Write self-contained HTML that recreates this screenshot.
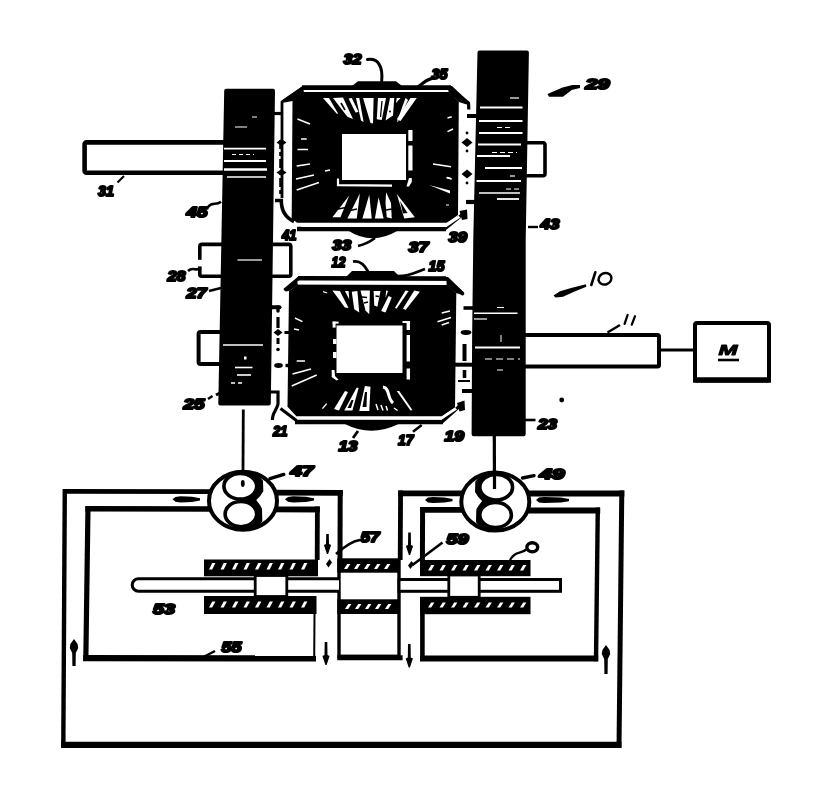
<!DOCTYPE html>
<html><head><meta charset="utf-8"><title>Patent figure</title>
<style>html,body{margin:0;padding:0;background:#fff;}body{width:824px;height:810px;overflow:hidden;font-family:"Liberation Sans",sans-serif;}svg{display:block}</style>
</head><body>
<svg style="filter:grayscale(1)" width="824" height="810" viewBox="0 0 824 810">
<rect x="0" y="0" width="824" height="810" fill="#fff"/>
<rect x="84.6" y="142.4" width="150" height="30.4" fill="#fff" stroke="#000" stroke-width="4.6" rx="2"/>
<rect x="515" y="142.8" width="30" height="33" fill="#fff" stroke="#000" stroke-width="3.6" rx="2"/>
<rect x="199.8" y="244.4" width="40" height="31.8" fill="#fff" stroke="#000" stroke-width="3.6" rx="2"/>
<rect x="250" y="244.4" width="40.8" height="31.8" fill="#fff" stroke="#000" stroke-width="3.6" rx="2"/>
<rect x="196.5" y="259.8" width="5.5" height="6.6" fill="#fff" stroke="none" stroke-width="3" rx="0"/>
<rect x="198.6" y="332" width="40" height="32" fill="#fff" stroke="#000" stroke-width="4" rx="2"/>
<rect x="500" y="335" width="159" height="31.6" fill="#fff" stroke="#000" stroke-width="4" rx="1.5"/>
<line x1="660" y1="350" x2="694" y2="350" stroke="#000" stroke-width="3" stroke-linecap="butt"/>
<rect x="695" y="323" width="74" height="57.5" fill="#fff" stroke="#000" stroke-width="4" rx="2"/>
<line x1="693" y1="380" x2="771" y2="380" stroke="#000" stroke-width="5.6" stroke-linecap="butt"/>
<polygon points="226.20,90.80 273.00,90.80 268.80,403.50 220.30,403.50" fill="#000" stroke="#000" stroke-width="4" stroke-linejoin="round"/>
<polygon points="479.50,52.40 526.90,52.40 523.70,240.00 523.70,434.30 473.60,434.30 474.10,339.00 475.30,238.00" fill="#000" stroke="#000" stroke-width="4" stroke-linejoin="round"/>
<line x1="224" y1="148.6" x2="266" y2="148.6" stroke="#fff" stroke-width="1.9" stroke-linecap="butt"/>
<line x1="232" y1="154.5" x2="254" y2="154.5" stroke="#fff" stroke-width="1" stroke-dasharray="4 3"/>
<line x1="224" y1="161" x2="266" y2="161" stroke="#fff" stroke-width="1.9" stroke-linecap="butt"/>
<line x1="224" y1="169.4" x2="267" y2="169.4" stroke="#fff" stroke-width="2.5" stroke-linecap="butt"/>
<line x1="227" y1="177" x2="266" y2="177" stroke="#fff" stroke-width="1.7" stroke-linecap="butt"/>
<line x1="235" y1="127" x2="247" y2="127" stroke="#fff" stroke-width="1" stroke-linecap="butt"/>
<line x1="252" y1="117" x2="257" y2="117" stroke="#fff" stroke-width="1" stroke-linecap="butt"/>
<line x1="237.5" y1="260" x2="262" y2="260" stroke="#fff" stroke-width="1.2" stroke-linecap="butt"/>
<line x1="223" y1="345" x2="263" y2="345" stroke="#fff" stroke-width="1.5" stroke-linecap="butt"/>
<line x1="235" y1="367.5" x2="252.5" y2="367.5" stroke="#fff" stroke-width="1.6" stroke-linecap="butt"/>
<line x1="237" y1="375" x2="251" y2="375" stroke="#fff" stroke-width="1.6" stroke-linecap="butt"/>
<line x1="231" y1="383" x2="244" y2="383" stroke="#fff" stroke-width="1.3" stroke-dasharray="4 3"/>
<rect x="244" y="356.5" width="2.5" height="3" fill="#fff" stroke="none" stroke-width="3" rx="0"/>
<line x1="510" y1="98" x2="519" y2="98" stroke="#fff" stroke-width="1.2" stroke-linecap="butt"/>
<line x1="480" y1="107.5" x2="522.5" y2="107.5" stroke="#fff" stroke-width="2.2" stroke-linecap="butt"/>
<line x1="479" y1="121" x2="522.5" y2="121" stroke="#fff" stroke-width="2.2" stroke-linecap="butt"/>
<line x1="479" y1="133" x2="522.5" y2="133" stroke="#fff" stroke-width="2" stroke-linecap="butt"/>
<line x1="478" y1="144.5" x2="521" y2="144.5" stroke="#fff" stroke-width="2.2" stroke-linecap="butt"/>
<line x1="477" y1="156" x2="510" y2="156" stroke="#fff" stroke-width="1.8" stroke-linecap="butt"/>
<line x1="485" y1="168" x2="522" y2="168" stroke="#fff" stroke-width="2" stroke-linecap="butt"/>
<line x1="510" y1="176" x2="515" y2="176" stroke="#fff" stroke-width="1.2" stroke-linecap="butt"/>
<line x1="476.5" y1="181" x2="521" y2="181" stroke="#fff" stroke-width="2.2" stroke-linecap="butt"/>
<line x1="479" y1="193" x2="520" y2="193" stroke="#fff" stroke-width="1.4" stroke-linecap="butt"/>
<line x1="497" y1="199" x2="519" y2="199" stroke="#fff" stroke-width="1.8" stroke-linecap="butt"/>
<line x1="497" y1="127.5" x2="512" y2="127.5" stroke="#fff" stroke-width="1" stroke-dasharray="5 3"/>
<line x1="492" y1="152.5" x2="517" y2="152.5" stroke="#fff" stroke-width="1" stroke-dasharray="5 3"/>
<line x1="506" y1="189" x2="520" y2="189" stroke="#fff" stroke-width="1" stroke-dasharray="5 3"/>
<line x1="497" y1="307.5" x2="504" y2="307.5" stroke="#fff" stroke-width="1" stroke-linecap="butt"/>
<line x1="474" y1="313.2" x2="517.5" y2="313.2" stroke="#fff" stroke-width="1.6" stroke-linecap="butt"/>
<line x1="474" y1="319" x2="487" y2="319" stroke="#fff" stroke-width="1.2" stroke-linecap="butt"/>
<line x1="475" y1="347.5" x2="520" y2="347.5" stroke="#fff" stroke-width="2" stroke-linecap="butt"/>
<line x1="485" y1="359" x2="520" y2="359" stroke="#fff" stroke-width="1.2" stroke-dasharray="7 4"/>
<line x1="497" y1="370" x2="503" y2="370" stroke="#fff" stroke-width="1" stroke-linecap="butt"/>
<line x1="501" y1="335" x2="501" y2="342" stroke="#fff" stroke-width="1" stroke-linecap="butt"/>
<polyline points="282.00,198.00 282.00,102.00 303.00,87.50" fill="none" stroke="#000" stroke-width="2.8" stroke-linejoin="round" stroke-linecap="butt"/>
<line x1="302" y1="87.6" x2="451" y2="87.6" stroke="#000" stroke-width="4.8" stroke-linecap="butt"/>
<polyline points="449.00,87.50 468.50,103.00 468.80,109.50" fill="none" stroke="#000" stroke-width="3.2" stroke-linejoin="round" stroke-linecap="butt"/>
<polygon points="352.00,86.00 358.00,81.30 396.00,81.30 402.00,86.00" fill="#000" />
<polygon points="304.00,92.00 449.00,92.00 458.80,101.70 458.00,215.00 447.00,222.80 297.00,222.80 291.70,218.50 292.50,100.50" fill="#000" />
<polygon points="303.00,86.00 282.00,100.50 284.50,102.50 292.50,101.00 304.00,93.00" fill="#000" />
<polygon points="447.00,86.00 452.00,86.00 469.00,102.00 466.50,104.50 459.00,102.00 449.00,93.00" fill="#000" />
<rect x="304" y="90.2" width="143.5" height="1.8" fill="#fff" stroke="none" stroke-width="3" rx="0"/>
<line x1="297" y1="229" x2="446" y2="229" stroke="#000" stroke-width="4.4" stroke-linecap="butt"/>
<polyline points="444.00,229.50 465.00,212.50" fill="none" stroke="#000" stroke-width="3.4" stroke-linejoin="round" stroke-linecap="butt"/>
<polygon points="459.50,211.00 467.00,209.50 467.50,219.00 462.00,220.00" fill="#000" />
<path d="M 348,230.5 Q 372,246 398,230.5 Z" fill="#000" stroke="none" stroke-width="3" />
<path d="M 275,200.5 L 281.3,200.5 C 281.3,209 284,217 294,221.5" fill="none" stroke="#000" stroke-width="3.6" />
<line x1="274" y1="113.5" x2="283" y2="113.5" stroke="#000" stroke-width="3.2" stroke-linecap="butt"/>
<polygon points="340.00,223.20 446.00,223.20 458.50,215.80 460.50,217.50 446.50,227.00 302.00,227.00 300.00,225.60" fill="#fff" />
<polygon points="447.00,222.80 458.30,215.00" fill="#000" />
<rect x="342" y="134" width="64" height="46" fill="#fff" stroke="none" stroke-width="3" rx="0"/>
<rect x="408.3" y="130" width="4.2" height="11" fill="#fff" stroke="none" stroke-width="3" rx="0"/>
<rect x="408.3" y="145.5" width="4.2" height="25" fill="#fff" stroke="none" stroke-width="3" rx="0"/>
<polygon points="406.50,186.60 409.00,178.00 411.80,178.00 411.80,182.00 409.00,186.60" fill="#fff" />
<polyline points="338.00,178.50 338.00,185.20 392.00,185.60" fill="none" stroke="#fff" stroke-width="2.2" stroke-linejoin="miter" stroke-linecap="butt"/>
<polygon points="323.00,98.00 329.00,98.00 338.20,113.80 336.80,113.80" fill="#fff" />
<polygon points="333.00,98.00 343.00,97.50 353.00,119.00 347.40,116.80" fill="#fff" />
<polygon points="348.60,98.60 351.80,98.00 358.50,112.00 355.50,112.50" fill="#fff" />
<polygon points="356.00,98.00 359.30,98.00 363.60,122.00 361.00,120.50" fill="#fff" />
<polygon points="363.00,98.00 373.60,98.00 373.00,123.60 370.50,123.00" fill="#fff" />
<polygon points="378.00,98.00 386.00,98.00 381.75,119.90 376.75,119.25" fill="#fff" />
<polygon points="390.00,98.00 394.25,98.00 393.00,115.50 385.50,120.50" fill="#fff" />
<polygon points="396.75,98.00 400.50,98.00 396.00,103.00" fill="#fff" />
<polygon points="405.50,98.00 408.00,100.00 398.00,121.75 397.00,121.75" fill="#fff" />
<polygon points="410.50,98.00 416.75,98.00 400.50,121.00 396.75,119.25" fill="#fff" />
<line x1="341" y1="103" x2="345" y2="110" stroke="#000" stroke-width="1.6" stroke-linecap="butt"/>
<line x1="382" y1="101" x2="380.5" y2="117" stroke="#000" stroke-width="1.3" stroke-linecap="butt"/>
<circle cx="390" cy="111.5" r="1" fill="#000"/>
<polygon points="349.25,195.40 332.40,217.25 340.50,217.25" fill="#fff" />
<polygon points="359.90,193.50 347.40,218.50 356.75,218.50" fill="#fff" />
<polygon points="369.25,194.75 362.40,218.50 371.75,218.50" fill="#fff" />
<polygon points="378.60,197.25 374.90,218.50 383.60,218.50" fill="#fff" />
<polygon points="386.10,192.25 385.50,203.00 386.75,217.25 391.75,218.50 391.00,203.00" fill="#fff" />
<polygon points="396.75,194.00 404.25,218.50 414.90,217.25" fill="#fff" />
<line x1="338" y1="209" x2="346" y2="207.5" stroke="#000" stroke-width="1.6" stroke-linecap="butt"/>
<line x1="350" y1="210.5" x2="357" y2="209" stroke="#000" stroke-width="1.6" stroke-linecap="butt"/>
<polygon points="400.00,201.00 403.00,213.50 407.50,213.00" fill="#000" />
<line x1="386" y1="210" x2="392" y2="209" stroke="#000" stroke-width="1.4" stroke-linecap="butt"/>
<line x1="297.5" y1="119" x2="310" y2="124" stroke="#fff" stroke-width="1.5" stroke-linecap="butt"/>
<line x1="301" y1="139" x2="306.7" y2="139" stroke="#fff" stroke-width="1.5" stroke-linecap="butt"/>
<line x1="297.5" y1="149.5" x2="308" y2="149.5" stroke="#fff" stroke-width="1.5" stroke-linecap="butt"/>
<line x1="296.7" y1="166" x2="310" y2="164" stroke="#fff" stroke-width="1.5" stroke-linecap="butt"/>
<line x1="296" y1="179" x2="314" y2="175" stroke="#fff" stroke-width="1.5" stroke-linecap="butt"/>
<line x1="296.7" y1="190" x2="319" y2="182.5" stroke="#fff" stroke-width="1.5" stroke-linecap="butt"/>
<line x1="325" y1="171" x2="330" y2="170" stroke="#fff" stroke-width="1.5" stroke-linecap="butt"/>
<line x1="447.5" y1="118" x2="451.7" y2="116.7" stroke="#fff" stroke-width="1.5" stroke-linecap="butt"/>
<line x1="447.5" y1="131.7" x2="453" y2="129" stroke="#fff" stroke-width="1.5" stroke-linecap="butt"/>
<line x1="433" y1="164" x2="451" y2="166.7" stroke="#fff" stroke-width="1.5" stroke-linecap="butt"/>
<line x1="446.7" y1="177.5" x2="451" y2="178.7" stroke="#fff" stroke-width="1.5" stroke-linecap="butt"/>
<line x1="446.7" y1="177.5" x2="451.7" y2="179" stroke="#fff" stroke-width="1.5" stroke-linecap="butt"/>
<polygon points="429.00,185.00 450.00,190.50 450.00,193.50" fill="#fff" />
<line x1="446" y1="205" x2="449" y2="205" stroke="#fff" stroke-width="1" stroke-linecap="butt"/>
<line x1="298" y1="278.2" x2="446" y2="278.6" stroke="#000" stroke-width="4.6" stroke-linecap="butt"/>
<polyline points="299.50,277.50 284.50,289.80" fill="none" stroke="#000" stroke-width="3" stroke-linejoin="round" stroke-linecap="butt"/>
<polyline points="444.00,278.50 462.50,293.50" fill="none" stroke="#000" stroke-width="3.6" stroke-linejoin="round" stroke-linecap="round"/>
<polygon points="346.00,277.00 352.00,271.00 394.00,271.00 400.00,277.00" fill="#000" />
<polygon points="298.00,284.50 447.00,285.00 456.30,293.00 455.00,407.50 441.70,416.60 296.70,416.60 287.50,406.70 289.00,291.00" fill="#000" />
<polygon points="299.00,276.50 283.50,289.50 285.50,291.50 289.00,291.00 298.00,285.00" fill="#000" />
<polygon points="443.00,277.00 448.00,277.00 463.50,292.00 461.00,294.50 456.00,293.00 447.00,285.50" fill="#000" />
<rect x="297.5" y="280.9" width="149" height="3.3" fill="#fff" stroke="none" stroke-width="3" rx="0"/>
<line x1="295" y1="421.8" x2="443" y2="421.8" stroke="#000" stroke-width="4.8" stroke-linecap="butt"/>
<polyline points="280.50,408.50 298.00,421.80" fill="none" stroke="#000" stroke-width="3" stroke-linejoin="round" stroke-linecap="butt"/>
<polyline points="441.00,422.80 462.50,403.50" fill="none" stroke="#000" stroke-width="3.4" stroke-linejoin="round" stroke-linecap="butt"/>
<polygon points="457.00,403.00 464.50,400.50 465.00,410.00 459.50,411.50" fill="#000" />
<path d="M 345,424 Q 371,437.5 398.5,424 Z" fill="#000" stroke="none" stroke-width="3" />
<polygon points="297.00,416.60 441.50,416.60 455.00,407.60 457.00,409.60 441.50,419.80 297.00,419.60" fill="#fff" />
<path d="M 270,392 L 278,392 L 278,404 C 277,410 272,413 272.5,420" fill="none" stroke="#000" stroke-width="3.2" />
<rect x="336.5" y="325.5" width="66" height="47.5" fill="#fff" stroke="none" stroke-width="3" rx="0"/>
<rect x="332.6" y="321.6" width="3" height="6" fill="#fff" stroke="none" stroke-width="3" rx="0"/>
<rect x="332.6" y="321.6" width="6" height="2" fill="#fff" stroke="none" stroke-width="3" rx="0"/>
<rect x="333" y="339" width="3.5" height="5" fill="#fff" stroke="none" stroke-width="3" rx="0"/>
<rect x="333" y="352" width="3.5" height="6" fill="#fff" stroke="none" stroke-width="3" rx="0"/>
<polygon points="331.70,370.00 334.50,370.00 335.00,376.00 338.50,379.50 336.50,380.50 331.70,377.00" fill="#fff" />
<rect x="406.6" y="321" width="3.4" height="9" fill="#fff" stroke="none" stroke-width="3" rx="0"/>
<rect x="406.6" y="335" width="3.4" height="26.5" fill="#fff" stroke="none" stroke-width="3" rx="0"/>
<rect x="406.6" y="368.5" width="3.4" height="11" fill="#fff" stroke="none" stroke-width="3" rx="0"/>
<rect x="402.5" y="321" width="5" height="2" fill="#fff" stroke="none" stroke-width="3" rx="0"/>
<polygon points="323.00,291.00 327.40,292.40 327.00,293.50 323.00,292.30" fill="#fff" />
<polygon points="332.40,290.50 339.90,291.00 348.60,308.00 344.90,307.40" fill="#fff" />
<polygon points="344.90,291.00 348.60,291.00 349.25,299.25" fill="#fff" />
<polygon points="351.75,291.75 357.40,291.00 359.25,312.40 354.25,309.25" fill="#fff" />
<polygon points="360.50,290.50 369.90,290.50 369.25,314.25 365.50,310.50" fill="#fff" />
<polygon points="373.60,291.00 380.50,291.00 377.40,306.75 374.25,305.50" fill="#fff" />
<polygon points="386.10,290.50 388.00,291.00 385.50,298.00" fill="#fff" />
<polygon points="388.60,296.00 391.75,297.40 385.50,312.40 381.10,311.00" fill="#fff" />
<polygon points="405.50,290.50 408.60,291.00 396.75,308.60 394.90,308.00" fill="#fff" />
<polygon points="414.25,290.50 419.90,291.75 405.50,309.90 403.00,308.60" fill="#fff" />
<line x1="362" y1="297" x2="367" y2="297.5" stroke="#000" stroke-width="1.4" stroke-linecap="butt"/>
<line x1="364" y1="303" x2="368" y2="302" stroke="#000" stroke-width="1.4" stroke-linecap="butt"/>
<line x1="375.5" y1="296" x2="379" y2="296.5" stroke="#000" stroke-width="1.3" stroke-linecap="butt"/>
<polygon points="345.00,391.00 348.00,392.00 339.00,410.50 334.00,409.00" fill="#fff" />
<polygon points="356.75,387.40 358.60,388.00 352.40,410.50 344.25,410.50" fill="#fff" />
<polygon points="364.90,386.10 370.50,386.75 369.25,411.00 359.25,411.00" fill="#fff" />
<polygon points="396.75,391.10 399.25,391.10 412.40,410.00 410.50,410.50" fill="#fff" />
<line x1="322.4" y1="408.6" x2="326.75" y2="403.6" stroke="#fff" stroke-width="1.4" stroke-linecap="butt"/>
<polygon points="351.50,400.00 353.50,400.00 351.00,408.00 347.50,408.00" fill="#000" />
<polygon points="365.00,392.00 367.00,392.00 366.50,407.00 362.50,407.00" fill="#000" />
<path d="M 383,387 C 390,388 387,398 393,403" fill="none" stroke="#fff" stroke-width="3" />
<line x1="376" y1="404" x2="378" y2="410" stroke="#fff" stroke-width="1.5" stroke-linecap="butt"/>
<line x1="381" y1="405" x2="383" y2="410.5" stroke="#fff" stroke-width="1.5" stroke-linecap="butt"/>
<line x1="386" y1="406" x2="387.5" y2="410.5" stroke="#fff" stroke-width="1.5" stroke-linecap="butt"/>
<line x1="394" y1="408" x2="397.5" y2="410.5" stroke="#fff" stroke-width="1.5" stroke-linecap="butt"/>
<line x1="295" y1="318" x2="302.5" y2="321.7" stroke="#fff" stroke-width="1.5" stroke-linecap="butt"/>
<line x1="294" y1="329" x2="299" y2="330" stroke="#fff" stroke-width="1.5" stroke-linecap="butt"/>
<line x1="296.7" y1="361" x2="305" y2="361" stroke="#fff" stroke-width="1.5" stroke-linecap="butt"/>
<line x1="292.5" y1="374" x2="311" y2="369" stroke="#fff" stroke-width="1.5" stroke-linecap="butt"/>
<line x1="291.7" y1="386" x2="316.7" y2="375" stroke="#fff" stroke-width="1.5" stroke-linecap="butt"/>
<line x1="441.7" y1="313" x2="450" y2="311" stroke="#fff" stroke-width="1.5" stroke-linecap="butt"/>
<line x1="437.5" y1="321.7" x2="451" y2="317.5" stroke="#fff" stroke-width="1.5" stroke-linecap="butt"/>
<line x1="441.7" y1="325" x2="449" y2="322.5" stroke="#fff" stroke-width="1.5" stroke-linecap="butt"/>
<line x1="463.5" y1="308" x2="475" y2="308" stroke="#000" stroke-width="3.6" stroke-linecap="butt"/>
<line x1="462" y1="391" x2="474" y2="391" stroke="#000" stroke-width="4" stroke-linecap="butt"/>
<line x1="455" y1="364.7" x2="473" y2="364.7" stroke="#000" stroke-width="4" stroke-linecap="butt"/>
<ellipse cx="466" cy="332.5" rx="5.3" ry="2.4" fill="#000"/>
<line x1="464.5" y1="344" x2="464.5" y2="361" stroke="#000" stroke-width="4" stroke-linecap="butt"/>
<line x1="464.5" y1="370" x2="464.5" y2="378" stroke="#000" stroke-width="3.6" stroke-linecap="butt"/>
<line x1="458" y1="381" x2="470" y2="381" stroke="#000" stroke-width="2" stroke-linecap="butt"/>
<line x1="467" y1="116" x2="479" y2="116" stroke="#000" stroke-width="4" stroke-linecap="butt"/>
<line x1="466" y1="202" x2="477" y2="202" stroke="#000" stroke-width="4.2" stroke-linecap="butt"/>
<polygon points="461.50,142.50 467.00,138.00 472.50,142.50 467.00,147.00" fill="#000" />
<polygon points="461.50,174.00 467.00,169.50 472.50,174.00 467.00,178.50" fill="#000" />
<circle cx="467" cy="133" r="1.4" fill="#000"/>
<circle cx="467" cy="151" r="1.4" fill="#000"/>
<circle cx="467" cy="183" r="1.4" fill="#000"/>
<line x1="281" y1="140" x2="281" y2="196" stroke="#000" stroke-width="3.6" stroke-dasharray="9 3 4 3"/>
<polygon points="276.50,142.50 281.50,139.00 286.50,142.50 281.50,146.00" fill="#000" />
<polygon points="276.50,172.50 281.50,169.00 286.50,172.50 281.50,176.00" fill="#000" />
<line x1="278" y1="307" x2="278" y2="311" stroke="#000" stroke-width="3.4" stroke-linecap="round"/>
<line x1="278" y1="317" x2="278" y2="328" stroke="#000" stroke-width="3.2" stroke-linecap="butt"/>
<polygon points="273.50,332.50 278.00,329.00 282.50,332.50 278.00,336.00" fill="#000" />
<line x1="278" y1="338" x2="278" y2="344" stroke="#000" stroke-width="3" stroke-linecap="butt"/>
<circle cx="278" cy="349.5" r="1.8" fill="#000"/>
<ellipse cx="278.5" cy="365.5" rx="4.3" ry="2.4" fill="#000"/>
<line x1="284.5" y1="332.5" x2="290" y2="332.5" stroke="#000" stroke-width="3" stroke-linecap="butt"/>
<line x1="285.5" y1="365.5" x2="290" y2="365.5" stroke="#000" stroke-width="3.4" stroke-linecap="butt"/>
<line x1="270" y1="307.3" x2="279.5" y2="307.3" stroke="#000" stroke-width="4" stroke-linecap="round"/>
<line x1="243.3" y1="409.5" x2="243" y2="471" stroke="#000" stroke-width="2.8" stroke-linecap="butt"/>
<line x1="494.3" y1="436" x2="494.5" y2="489" stroke="#000" stroke-width="3.2" stroke-linecap="butt"/>
<line x1="63" y1="491.4" x2="216" y2="491.6" stroke="#000" stroke-width="4.8" stroke-linecap="butt"/>
<line x1="64.8" y1="489" x2="63.3" y2="747.5" stroke="#000" stroke-width="4.4" stroke-linecap="butt"/>
<line x1="61.2" y1="744.8" x2="621.4" y2="744.8" stroke="#000" stroke-width="6.2" stroke-linecap="butt"/>
<line x1="621.8" y1="490.5" x2="619" y2="747.8" stroke="#000" stroke-width="5" stroke-linecap="butt"/>
<line x1="522" y1="493.5" x2="624.3" y2="493.5" stroke="#000" stroke-width="6" stroke-linecap="butt"/>
<line x1="270" y1="492.6" x2="342.8" y2="492.8" stroke="#000" stroke-width="5.8" stroke-linecap="butt"/>
<line x1="340.2" y1="490" x2="340" y2="560" stroke="#000" stroke-width="5" stroke-linecap="butt"/>
<line x1="398.2" y1="493.3" x2="468" y2="493.3" stroke="#000" stroke-width="5.8" stroke-linecap="butt"/>
<line x1="400.6" y1="490.5" x2="400.2" y2="560" stroke="#000" stroke-width="4.8" stroke-linecap="butt"/>
<line x1="85.4" y1="508.8" x2="217" y2="509" stroke="#000" stroke-width="5.6" stroke-linecap="butt"/>
<line x1="88" y1="506" x2="85.8" y2="661" stroke="#000" stroke-width="5.2" stroke-linecap="butt"/>
<line x1="83.2" y1="658.2" x2="316" y2="658.4" stroke="#000" stroke-width="6.2" stroke-linecap="butt"/>
<line x1="270" y1="509.4" x2="319.8" y2="509.5" stroke="#000" stroke-width="5.8" stroke-linecap="butt"/>
<line x1="317.4" y1="506.6" x2="317.2" y2="560" stroke="#000" stroke-width="4.8" stroke-linecap="butt"/>
<line x1="420" y1="509.8" x2="469" y2="509.8" stroke="#000" stroke-width="5.8" stroke-linecap="butt"/>
<line x1="422.6" y1="507" x2="422.4" y2="562" stroke="#000" stroke-width="5" stroke-linecap="butt"/>
<line x1="522" y1="510.5" x2="600.2" y2="510.5" stroke="#000" stroke-width="6.2" stroke-linecap="butt"/>
<line x1="597.8" y1="507.5" x2="596" y2="661.3" stroke="#000" stroke-width="4.4" stroke-linecap="butt"/>
<line x1="420" y1="658.4" x2="598.2" y2="658.4" stroke="#000" stroke-width="6" stroke-linecap="butt"/>
<line x1="422.4" y1="613" x2="422.4" y2="661" stroke="#000" stroke-width="4.6" stroke-linecap="butt"/>
<line x1="314.5" y1="613" x2="314.2" y2="659" stroke="#000" stroke-width="2" stroke-linecap="butt"/>
<rect x="339" y="560" width="60" height="96.3" fill="#fff" stroke="#000" stroke-width="3.4" rx="0"/>
<line x1="337.3" y1="657.8" x2="402.6" y2="657.8" stroke="#000" stroke-width="5" stroke-linecap="butt"/>
<rect x="337.3" y="559" width="62.5" height="13.7" fill="#000" stroke="none" stroke-width="3" rx="0"/>
<rect x="337.3" y="599.3" width="62.5" height="14.7" fill="#000" stroke="none" stroke-width="3" rx="0"/>
<rect x="204" y="559.5" width="114" height="16.8" fill="#000" stroke="none" stroke-width="3" rx="0"/>
<rect x="204" y="596" width="112.5" height="18" fill="#000" stroke="none" stroke-width="3" rx="0"/>
<rect x="420" y="560" width="110.5" height="16.2" fill="#000" stroke="none" stroke-width="3" rx="0"/>
<rect x="420" y="596.8" width="110.5" height="17.4" fill="#000" stroke="none" stroke-width="3" rx="0"/>
<path d="M 339,578.8 L 138.4,578.8 A 6.2,6.2 0 0 0 138.4,591.2 L 339,591.2" fill="#fff" stroke="#000" stroke-width="3" />
<rect x="399" y="579.5" width="161.5" height="11.8" fill="#fff" stroke="#000" stroke-width="3" rx="0"/>
<rect x="255.2" y="575.5" width="31.6" height="21" fill="#fff" stroke="#000" stroke-width="2.8" rx="0"/>
<rect x="448.8" y="575" width="30.4" height="22.3" fill="#fff" stroke="#000" stroke-width="2.8" rx="0"/>
<polygon points="209.00,569.50 212.20,563.00 215.40,563.00 212.20,569.50" fill="#fff" />
<polygon points="220.50,569.50 223.70,563.00 226.90,563.00 223.70,569.50" fill="#fff" />
<polygon points="232.00,569.50 235.20,563.00 238.40,563.00 235.20,569.50" fill="#fff" />
<polygon points="243.50,569.50 246.70,563.00 249.90,563.00 246.70,569.50" fill="#fff" />
<polygon points="255.00,569.50 258.20,563.00 261.40,563.00 258.20,569.50" fill="#fff" />
<polygon points="266.50,569.50 269.70,563.00 272.90,563.00 269.70,569.50" fill="#fff" />
<polygon points="278.00,569.50 281.20,563.00 284.40,563.00 281.20,569.50" fill="#fff" />
<polygon points="289.50,569.50 292.70,563.00 295.90,563.00 292.70,569.50" fill="#fff" />
<polygon points="301.00,569.50 304.20,563.00 307.40,563.00 304.20,569.50" fill="#fff" />
<polygon points="209.00,607.50 212.20,601.50 215.40,601.50 212.20,607.50" fill="#fff" />
<polygon points="220.50,607.50 223.70,601.50 226.90,601.50 223.70,607.50" fill="#fff" />
<polygon points="232.00,607.50 235.20,601.50 238.40,601.50 235.20,607.50" fill="#fff" />
<polygon points="243.50,607.50 246.70,601.50 249.90,601.50 246.70,607.50" fill="#fff" />
<polygon points="255.00,607.50 258.20,601.50 261.40,601.50 258.20,607.50" fill="#fff" />
<polygon points="266.50,607.50 269.70,601.50 272.90,601.50 269.70,607.50" fill="#fff" />
<polygon points="278.00,607.50 281.20,601.50 284.40,601.50 281.20,607.50" fill="#fff" />
<polygon points="289.50,607.50 292.70,601.50 295.90,601.50 292.70,607.50" fill="#fff" />
<polygon points="301.00,607.50 304.20,601.50 307.40,601.50 304.20,607.50" fill="#fff" />
<polygon points="344.00,569.00 347.20,564.00 350.40,564.00 347.20,569.00" fill="#fff" />
<polygon points="354.00,569.00 357.20,564.00 360.40,564.00 357.20,569.00" fill="#fff" />
<polygon points="364.00,569.00 367.20,564.00 370.40,564.00 367.20,569.00" fill="#fff" />
<polygon points="374.00,569.00 377.20,564.00 380.40,564.00 377.20,569.00" fill="#fff" />
<polygon points="384.00,569.00 387.20,564.00 390.40,564.00 387.20,569.00" fill="#fff" />
<polygon points="345.00,609.00 348.20,604.00 351.40,604.00 348.20,609.00" fill="#fff" />
<polygon points="355.00,609.00 358.20,604.00 361.40,604.00 358.20,609.00" fill="#fff" />
<polygon points="365.00,609.00 368.20,604.00 371.40,604.00 368.20,609.00" fill="#fff" />
<polygon points="375.00,609.00 378.20,604.00 381.40,604.00 378.20,609.00" fill="#fff" />
<polygon points="385.00,609.00 388.20,604.00 391.40,604.00 388.20,609.00" fill="#fff" />
<polygon points="428.00,570.50 431.20,565.00 434.40,565.00 431.20,570.50" fill="#fff" />
<polygon points="439.50,570.50 442.70,565.00 445.90,565.00 442.70,570.50" fill="#fff" />
<polygon points="451.00,570.50 454.20,565.00 457.40,565.00 454.20,570.50" fill="#fff" />
<polygon points="462.50,570.50 465.70,565.00 468.90,565.00 465.70,570.50" fill="#fff" />
<polygon points="474.00,570.50 477.20,565.00 480.40,565.00 477.20,570.50" fill="#fff" />
<polygon points="485.50,570.50 488.70,565.00 491.90,565.00 488.70,570.50" fill="#fff" />
<polygon points="497.00,570.50 500.20,565.00 503.40,565.00 500.20,570.50" fill="#fff" />
<polygon points="508.50,570.50 511.70,565.00 514.90,565.00 511.70,570.50" fill="#fff" />
<polygon points="520.00,570.50 523.20,565.00 526.40,565.00 523.20,570.50" fill="#fff" />
<polygon points="428.00,607.50 431.20,602.50 434.40,602.50 431.20,607.50" fill="#fff" />
<polygon points="439.50,607.50 442.70,602.50 445.90,602.50 442.70,607.50" fill="#fff" />
<polygon points="451.00,607.50 454.20,602.50 457.40,602.50 454.20,607.50" fill="#fff" />
<polygon points="462.50,607.50 465.70,602.50 468.90,602.50 465.70,607.50" fill="#fff" />
<polygon points="474.00,607.50 477.20,602.50 480.40,602.50 477.20,607.50" fill="#fff" />
<polygon points="485.50,607.50 488.70,602.50 491.90,602.50 488.70,607.50" fill="#fff" />
<polygon points="497.00,607.50 500.20,602.50 503.40,602.50 500.20,607.50" fill="#fff" />
<polygon points="508.50,607.50 511.70,602.50 514.90,602.50 511.70,607.50" fill="#fff" />
<polygon points="520.00,607.50 523.20,602.50 526.40,602.50 523.20,607.50" fill="#fff" />
<ellipse cx="243" cy="500.7" rx="34" ry="29" fill="#fff" stroke="#000" stroke-width="4"/>
<polygon points="250.00,473.20 257.50,474.70 263.00,480.70 263.30,491.20 260.00,496.20 256.25,500.00 260.00,505.00 262.00,508.70 262.30,521.20 257.50,527.70 251.25,530.20 243.00,527.70 243.00,473.70" fill="#000" />
<ellipse cx="240.3" cy="486.3" rx="16.4" ry="12.8" fill="#fff" stroke="#000" stroke-width="3.6"/>
<ellipse cx="240.9" cy="514.1" rx="15.8" ry="12.6" fill="#fff" stroke="#000" stroke-width="3.6"/>
<ellipse cx="495.3" cy="501.6" rx="34" ry="29" fill="#fff" stroke="#000" stroke-width="4"/>
<polygon points="488.30,474.10 480.80,475.60 475.30,481.60 475.00,492.10 478.30,497.10 482.05,500.90 478.30,505.90 476.30,509.60 476.00,522.10 480.80,528.60 487.05,531.10 495.30,528.60 495.30,474.60" fill="#000" />
<ellipse cx="496.2" cy="487.20000000000005" rx="16.4" ry="12.8" fill="#fff" stroke="#000" stroke-width="3.6"/>
<ellipse cx="495.59999999999997" cy="515.0" rx="15.8" ry="12.6" fill="#fff" stroke="#000" stroke-width="3.6"/>
<ellipse cx="242.8" cy="483.5" rx="1.9" ry="3.4" fill="#000"/>
<line x1="494.5" y1="470" x2="494.5" y2="489" stroke="#000" stroke-width="3.2" stroke-linecap="butt"/>
<polygon points="172.50,499.30 175.50,496.90 180.50,496.20 192.00,496.70 200.00,498.30 200.00,500.50 192.00,501.90 180.50,502.40 175.50,501.70" fill="#000" />
<polygon points="285.00,499.30 288.00,496.90 293.00,496.20 306.00,496.70 314.00,498.30 314.00,500.50 306.00,501.90 293.00,502.40 288.00,501.70" fill="#000" />
<polygon points="425.00,500.00 428.00,497.60 433.00,496.90 444.50,497.40 452.50,499.00 452.50,501.20 444.50,502.60 433.00,503.10 428.00,502.40" fill="#000" />
<polygon points="536.00,500.00 539.00,497.60 544.00,496.90 561.00,497.40 569.00,499.00 569.00,501.20 561.00,502.60 544.00,503.10 539.00,502.40" fill="#000" />
<polygon points="326.20,534.00 328.80,534.00 329.00,544.00 331.10,545.00 328.10,554.00 326.90,554.00 323.90,545.00 326.00,544.00" fill="#000" />
<polygon points="408.20,532.50 410.80,532.50 411.00,545.00 413.10,546.00 410.10,555.00 408.90,555.00 405.90,546.00 408.00,545.00" fill="#000" />
<polygon points="324.70,642.00 327.30,642.00 327.50,655.00 329.60,656.00 326.60,665.00 325.40,665.00 322.40,656.00 324.50,655.00" fill="#000" />
<polygon points="408.00,644.00 410.60,644.00 410.80,657.50 412.90,658.50 409.90,667.50 408.70,667.50 405.70,658.50 407.80,657.50" fill="#000" />
<polygon points="329.50,559.00 332.00,562.50 328.50,567.50 326.00,564.00" fill="#000" />
<polygon points="411.50,561.00 414.00,564.00 410.50,569.00 408.00,565.50" fill="#000" />
<polygon points="74.00,639.00 77.60,644.00 78.20,648.00 75.80,653.00 75.60,666.00 72.40,666.00 72.20,653.00 69.80,648.00 70.40,644.00" fill="#000" />
<polygon points="606.00,645.00 609.60,650.00 610.20,654.00 607.80,659.00 607.60,674.00 604.40,674.00 604.20,659.00 601.80,654.00 602.40,650.00" fill="#000" />
<g font-family="Liberation Sans, sans-serif" font-weight="bold" font-style="italic" fill="#000" stroke="#000" stroke-width="2.1" stroke-linejoin="round">
<text x="343.5" y="64.2" font-size="15" textLength="18" lengthAdjust="spacingAndGlyphs" >32</text>
<text x="431.5" y="79.2" font-size="15" textLength="16" lengthAdjust="spacingAndGlyphs" >35</text>
<text x="585.5" y="88.7" font-size="15" textLength="24" lengthAdjust="spacingAndGlyphs" >29</text>
<text x="98.0" y="196.2" font-size="15" textLength="16" lengthAdjust="spacingAndGlyphs" >31</text>
<text x="186.5" y="216.7" font-size="15" textLength="21" lengthAdjust="spacingAndGlyphs" >45</text>
<text x="282.0" y="240.2" font-size="15" textLength="14.5" lengthAdjust="spacingAndGlyphs" >41</text>
<text x="332.2" y="250.2" font-size="15" textLength="19" lengthAdjust="spacingAndGlyphs" >33</text>
<text x="408.5" y="251.7" font-size="15" textLength="20" lengthAdjust="spacingAndGlyphs" >37</text>
<text x="448.5" y="241.7" font-size="15" textLength="18.5" lengthAdjust="spacingAndGlyphs" >39</text>
<text x="540.5" y="229.2" font-size="15" textLength="19" lengthAdjust="spacingAndGlyphs" >43</text>
<text x="331.5" y="266.7" font-size="15" textLength="14" lengthAdjust="spacingAndGlyphs" >12</text>
<text x="428.5" y="271.2" font-size="15" textLength="16" lengthAdjust="spacingAndGlyphs" >15</text>
<text x="167.5" y="281.2" font-size="15" textLength="18" lengthAdjust="spacingAndGlyphs" >28</text>
<text x="186.5" y="298.2" font-size="15" textLength="20" lengthAdjust="spacingAndGlyphs" >27</text>
<text x="183.5" y="409.2" font-size="15" textLength="21" lengthAdjust="spacingAndGlyphs" >25</text>
<text x="273.0" y="435.7" font-size="15" textLength="14.5" lengthAdjust="spacingAndGlyphs" >21</text>
<text x="338.5" y="450.7" font-size="15" textLength="19" lengthAdjust="spacingAndGlyphs" >13</text>
<text x="398.0" y="445.2" font-size="15" textLength="15.5" lengthAdjust="spacingAndGlyphs" >17</text>
<text x="444.5" y="441.2" font-size="15" textLength="19.5" lengthAdjust="spacingAndGlyphs" >19</text>
<text x="538.0" y="429.2" font-size="15" textLength="19" lengthAdjust="spacingAndGlyphs" >23</text>
<text x="290.5" y="476.2" font-size="15" textLength="23" lengthAdjust="spacingAndGlyphs" >47</text>
<text x="539.5" y="479.2" font-size="15" textLength="25" lengthAdjust="spacingAndGlyphs" >49</text>
<text x="360.5" y="541.7" font-size="15" textLength="19" lengthAdjust="spacingAndGlyphs" >57</text>
<text x="446.5" y="544.2" font-size="15" textLength="22" lengthAdjust="spacingAndGlyphs" >59</text>
<text x="153.0" y="614.2" font-size="15" textLength="22" lengthAdjust="spacingAndGlyphs" >53</text>
<text x="221.5" y="651.7" font-size="15" textLength="20" lengthAdjust="spacingAndGlyphs" >55</text>
<text x="718.5" y="355" font-size="15" textLength="19" lengthAdjust="spacingAndGlyphs" stroke-width="1">M</text>
</g>
<line x1="718" y1="360" x2="739" y2="360" stroke="#000" stroke-width="2.6" stroke-linecap="butt"/>
<ellipse cx="532.3" cy="547.3" rx="5.4" ry="4.5" fill="none" stroke="#000" stroke-width="3.4"/>
<path d="M 510,560 C 516,550 520,555 527,549" fill="none" stroke="#000" stroke-width="2.4" />
<path d="M 367.5,59.5 C 378,58 383,66 381.7,81" fill="none" stroke="#000" stroke-width="3" stroke-linecap="round"/>
<path d="M 433,78 C 426,80 424,82 418,87" fill="none" stroke="#000" stroke-width="3.2" />
<polygon points="547.50,94.00 562.50,87.50 572.50,85.00 580.00,85.00 580.00,88.00 571.70,90.00 563.00,96.70 549.00,96.70" fill="#000" />
<line x1="117.5" y1="182.5" x2="124" y2="176" stroke="#000" stroke-width="2.2" stroke-linecap="butt"/>
<path d="M 208,207 C 212,201 216,206 221,201.7" fill="none" stroke="#000" stroke-width="2.6" />
<path d="M 188,271 C 193,266 196,272 201,268" fill="none" stroke="#000" stroke-width="2.6" />
<line x1="209" y1="291" x2="221" y2="288" stroke="#000" stroke-width="2.6" stroke-linecap="butt"/>
<path d="M 358,246 C 366,244 371,241 375,238" fill="none" stroke="#000" stroke-width="2.8" />
<path d="M 353,261.7 C 360,260 365,266 368,271.5" fill="none" stroke="#000" stroke-width="2.8" />
<path d="M 396.7,276 C 408,277 416,272 425,269" fill="none" stroke="#000" stroke-width="2.8" />
<polygon points="553.50,295.50 560.00,291.30 572.00,287.80 586.00,284.30 586.30,286.80 574.00,291.80 563.00,296.80 555.50,297.60" fill="#000" />
<line x1="595.3" y1="272.3" x2="591.3" y2="285" stroke="#000" stroke-width="2.6" stroke-linecap="round"/>
<ellipse cx="605" cy="278.8" rx="6.6" ry="5.6" transform="rotate(-25 605 278.8)" fill="none" stroke="#000" stroke-width="2.5"/>
<line x1="627.6" y1="315" x2="624.6" y2="323.8" stroke="#000" stroke-width="2.3" stroke-linecap="round"/>
<line x1="635" y1="316.2" x2="631.8" y2="324.6" stroke="#000" stroke-width="2.3" stroke-linecap="round"/>
<line x1="607.5" y1="332.5" x2="620" y2="325" stroke="#000" stroke-width="2.4" stroke-linecap="butt"/>
<line x1="208" y1="399" x2="212.5" y2="396" stroke="#000" stroke-width="2.4" stroke-linecap="butt"/>
<line x1="216" y1="395" x2="220" y2="393" stroke="#000" stroke-width="3" stroke-linecap="butt"/>
<line x1="525" y1="420" x2="535.5" y2="420" stroke="#000" stroke-width="2.6" stroke-linecap="butt"/>
<line x1="528" y1="227" x2="538" y2="227" stroke="#000" stroke-width="2.4" stroke-linecap="butt"/>
<line x1="358" y1="431" x2="353" y2="438" stroke="#000" stroke-width="2.8" stroke-linecap="butt"/>
<line x1="413" y1="431.7" x2="421.7" y2="425" stroke="#000" stroke-width="2.6" stroke-linecap="butt"/>
<line x1="270" y1="478.7" x2="283.8" y2="474.4" stroke="#000" stroke-width="3.4" stroke-linecap="round"/>
<line x1="522.5" y1="478" x2="534" y2="475.6" stroke="#000" stroke-width="3.4" stroke-linecap="round"/>
<path d="M 336,554 C 345,546 352,541 360,540" fill="none" stroke="#000" stroke-width="2.6" />
<line x1="412.5" y1="565" x2="442.5" y2="542.5" stroke="#000" stroke-width="2.6" stroke-linecap="butt"/>
<line x1="202.5" y1="657.5" x2="215" y2="651" stroke="#000" stroke-width="2.4" stroke-linecap="butt"/>
<circle cx="561.7" cy="400" r="2.4" fill="#000"/>
</svg>
</body></html>
